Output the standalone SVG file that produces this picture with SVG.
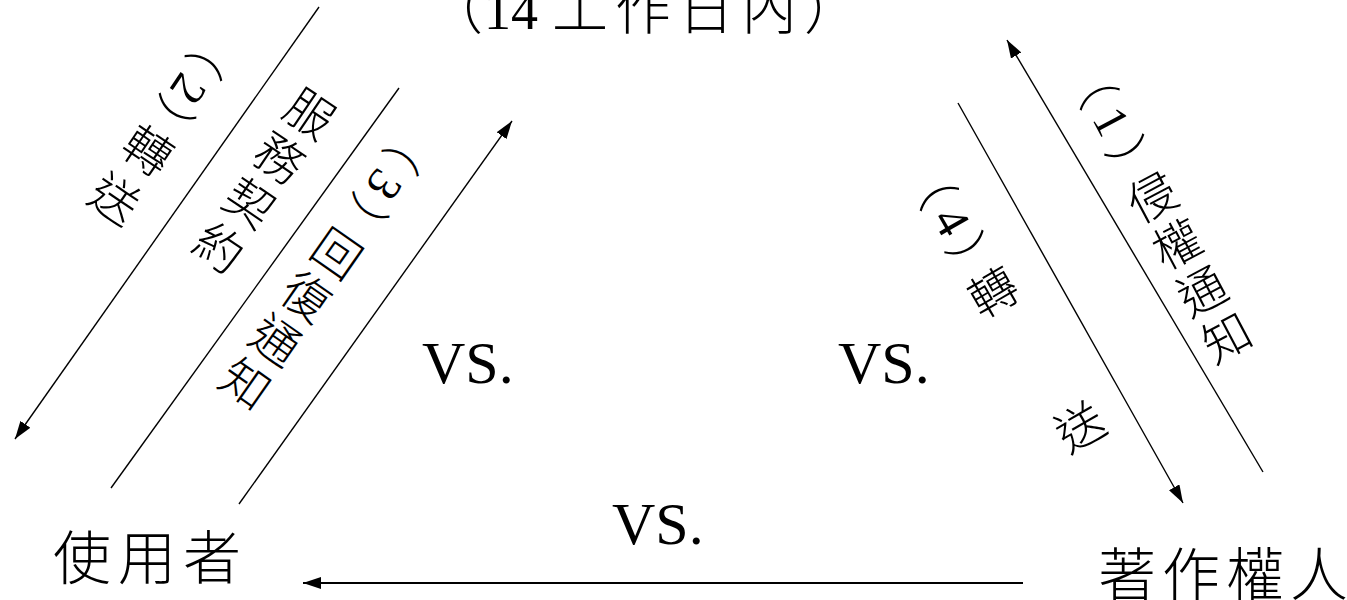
<svg xmlns="http://www.w3.org/2000/svg" width="1347" height="600" viewBox="0 0 1347 600">
<style>
.cjk{font-family:"Noto Sans CJK TC","Noto Sans CJK SC",sans-serif;font-weight:300;fill:#000}
.lat{font-family:"Liberation Serif",serif;font-weight:400}
.vs{font-family:"Liberation Serif",serif;font-size:60px;fill:#000}
.node{font-size:58px}
.v{writing-mode:vertical-rl;font-size:48px;letter-spacing:5px}
.ln{stroke:#000;stroke-width:1.4;fill:none}
.ln2{stroke:#000;stroke-width:2.2;fill:none}
</style>
<defs>
<marker id="ah" markerUnits="userSpaceOnUse" viewBox="0 0 18 12" markerWidth="18" markerHeight="12" refX="18" refY="6" orient="auto"><path d="M0,0 L18,6 L0,12 z" fill="#000"/></marker>
</defs>
<rect width="1347" height="600" fill="#fff"/>

<g id="connectors">
<path class="ln" d="M319,7 L15,439" marker-end="url(#ah)"/>
<path class="ln" d="M399,88 L111,488"/>
<path class="ln" d="M239,504 L512,121" marker-end="url(#ah)"/>
<path class="ln" d="M1263,472 L1007,40" marker-end="url(#ah)"/>
<path class="ln" d="M958,103 L1183,503" marker-end="url(#ah)"/>
<path class="ln2" d="M1023,583 L303,583" marker-end="url(#ah)"/>
</g>

<g id="title">
<text class="cjk" y="29" font-size="56"><tspan x="427">（</tspan><tspan class="lat" x="484" font-size="54">14</tspan><tspan x="552" style="letter-spacing:7px">工作日內</tspan><tspan x="804">）</tspan></text>
</g>

<g id="node-user"><text class="cjk node" x="53" y="579" style="letter-spacing:7px">使用者</text></g>
<g id="node-owner"><text class="cjk node" x="1098" y="596" style="letter-spacing:6px">著作權人</text></g>

<g id="vs-labels">
<text class="vs" x="422" y="383">VS.</text>
<text class="vs" x="838" y="383">VS.</text>
<text class="vs" x="612" y="544">VS.</text>
</g>

<g id="label-2" transform="translate(148,150) rotate(34)">
<text class="cjk v"><tspan x="0" y="-143">（</tspan><tspan class="lat" x="0" y="-85">2</tspan><tspan x="0" y="-57">）</tspan><tspan x="0" y="-24" style="letter-spacing:11px">轉送</tspan></text>
</g>
<g id="label-contract" transform="translate(310,113) rotate(34)">
<text class="cjk v" x="0" y="-24" style="letter-spacing:6px">服務契約</text>
</g>
<g id="label-3" transform="translate(337,253) rotate(35)">
<text class="cjk v"><tspan x="0" y="-154">（</tspan><tspan class="lat" x="0" y="-95">3</tspan><tspan x="0" y="-63">）</tspan><tspan x="0" y="-24">回復通知</tspan></text>
</g>
<g id="label-1" transform="translate(1152,197) rotate(-28)">
<text class="cjk v"><tspan x="0" y="-155">（</tspan><tspan class="lat" x="0" y="-98">1</tspan><tspan x="0" y="-63">）</tspan><tspan x="0" y="-24">侵權通知</tspan></text>
</g>
<g id="label-4" transform="translate(993,292) rotate(-30)">
<text class="cjk v"><tspan x="0" y="-151">（</tspan><tspan class="lat" x="0" y="-94">4</tspan><tspan x="0" y="-62">）</tspan><tspan x="0" y="-24">轉</tspan><tspan x="8" y="136">送</tspan></text>
</g>
</svg>
